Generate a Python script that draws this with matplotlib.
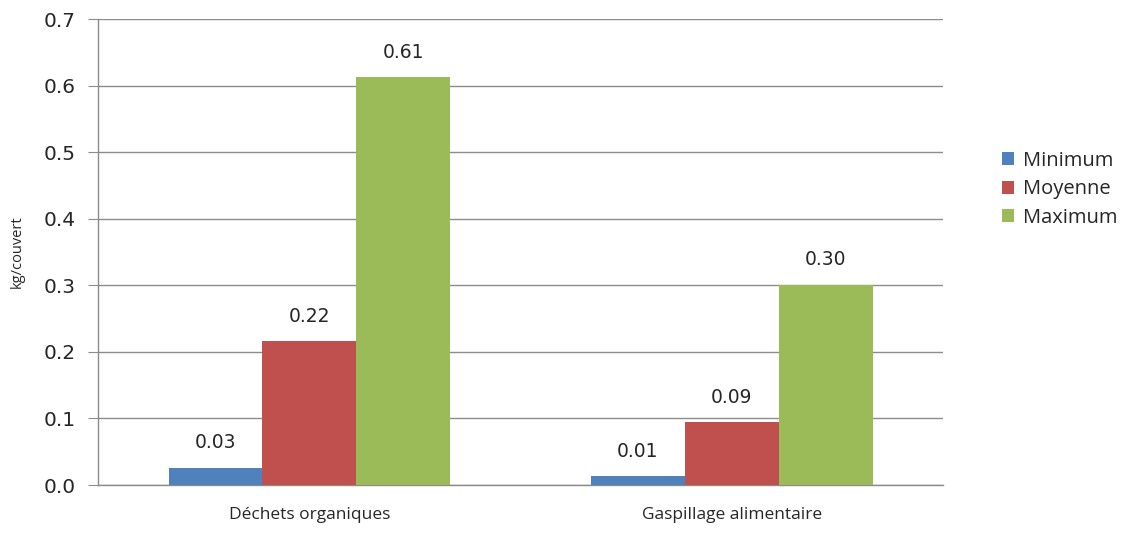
import matplotlib
matplotlib.use("Agg")
import matplotlib.pyplot as plt
import numpy as np

categories = ["Déchets organiques", "Gaspillage alimentaire"]
series_names = ["Minimum", "Moyenne", "Maximum"]
minimum = [0.026, 0.013]
moyenne = [0.216, 0.094]
maximum = [0.613, 0.301]
colors = ["#4F81BD", "#C0504D", "#9BBB59"]
y_label = "kg/couvert"

plt.rcParams["font.family"] = ["Open Sans", "DejaVu Sans"]
num_font = ["DejaVu Sans"]
text_color = "#262626"

fig = plt.figure(figsize=(11.28, 5.33), dpi=100)
ax = fig.add_axes([0.087, 0.090, 0.749, 0.874])

x = np.arange(len(categories))
width = 1 / 4.5
for i, (name, vals, c) in enumerate(zip(series_names, [minimum, moyenne, maximum], colors)):
    pos = x + (i - 1) * width
    bars = ax.bar(pos, vals, width, color=c, label=name, zorder=3)
    for b, v in zip(bars, vals):
        ax.annotate(f"{v:.2f}", (b.get_x() + b.get_width() / 2, v),
                    xytext=(0, 11), textcoords="offset points",
                    ha="center", va="bottom", fontsize=13.5, color=text_color,
                    family=num_font)

ax.set_xlim(-0.5, 1.5)
ax.set_ylim(0, 0.7)
yt = np.arange(0, 0.71, 0.1)
ax.set_yticks(yt)
ax.set_yticklabels([f"{t:.1f}" for t in yt], family=num_font, fontsize=14.5)
ax.yaxis.grid(True, color="#8c8c8c", linewidth=1, zorder=0)
ax.set_axisbelow(True)
ax.set_xticks(x)
ax.set_xticklabels(categories, fontsize=12.5)
ax.tick_params(axis="x", length=0, pad=16, labelcolor=text_color)
ax.tick_params(axis="y", length=7, color="#8c8c8c", pad=9, labelcolor=text_color)
for s in ["top", "right"]:
    ax.spines[s].set_visible(False)
for s in ["left", "bottom"]:
    ax.spines[s].set_color("#8c8c8c")
    ax.spines[s].set_linewidth(1)
ax.set_ylabel(y_label, fontsize=10.5, labelpad=14, color=text_color)

leg = fig.legend(loc="center left", bbox_to_anchor=(0.872, 0.645), frameon=False,
                 fontsize=14.5, handlelength=0.6, handleheight=0.6, handletextpad=0.45,
                 labelspacing=0.42)
for t in leg.get_texts():
    t.set_color(text_color)

fig.savefig("out.png", dpi=100)
